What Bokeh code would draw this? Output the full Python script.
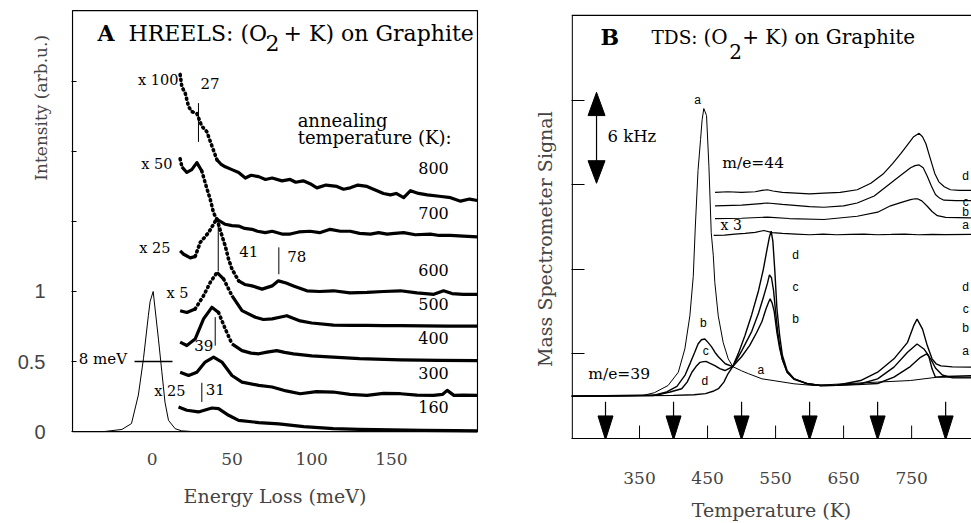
import math
from bokeh.plotting import figure
from bokeh.layouts import row
from bokeh.models import Label, FixedTicker, Span
from bokeh.embed import file_html
from bokeh.resources import INLINE

SERIF = "DejaVu Serif"
SANS = "Liberation Sans"
NB = "\u00a0"

# ---------------- Panel A : HREELS spectra ----------------
E_elastic = [-50, -30, -19, -13, -8.7, -5.5, -2.4, -1.3, 0.6, 1.8, 3.9, 6.0, 8.0, 10.2, 14.4, 18.5, 25]
I_elastic = [0.0, 0.0, 0.015, 0.057, 0.26, 0.52, 0.83, 0.93, 1.0, 0.875, 0.66, 0.43, 0.21, 0.08, 0.02, 0.005, 0.0]

E_800 = [17.5, 18.6, 20.6, 22.8, 24.8, 28.0, 31.1, 34.3, 37.4, 40.6, 43.0, 45.8, 50.0, 54.2, 58.4, 62.0, 66.8, 71.0,
         75.2, 81.4, 86.5, 90.0, 94.7, 99.0, 103.3, 109.0, 115.8, 120.0, 124.2, 129.0, 134.7, 141.0, 145.0, 149.4,
         153.0, 157.7, 162.0, 167.0, 172.5, 180.0, 187.1, 193.4, 199.0, 204.0]
I_800 = [2.55, 2.46, 2.42, 2.32, 2.285, 2.27, 2.18, 2.14, 2.04, 1.94, 1.91, 1.89, 1.87, 1.85, 1.81, 1.83, 1.82, 1.80,
         1.81, 1.79, 1.80, 1.78, 1.79, 1.77, 1.74, 1.76, 1.75, 1.73, 1.74, 1.76, 1.75, 1.72, 1.70, 1.69,
         1.70, 1.67, 1.72, 1.70, 1.69, 1.68, 1.67, 1.645, 1.66, 1.65]

E_700 = [17.5, 18.6, 21.7, 24.8, 28.0, 31.1, 33.2, 36.4, 38.5, 40.6, 45.8, 50.0, 54.2, 58.0, 62.6, 66.0, 70.9, 75.2,
         81.4, 86.5, 92.0, 99.0, 105.0, 111.6, 118.0, 124.2, 130.0, 136.8, 142.0, 147.3, 152.0, 157.7, 165.0, 174.5,
         180.0, 187.1, 195.0, 204.0]
I_700 = [1.947, 1.89, 1.85, 1.87, 1.92, 1.86, 1.776, 1.657, 1.56, 1.515, 1.48, 1.47, 1.467, 1.45, 1.444, 1.43, 1.42,
         1.43, 1.41, 1.41, 1.425, 1.43, 1.42, 1.444, 1.43, 1.43, 1.415, 1.41, 1.42, 1.41, 1.415, 1.42, 1.405, 1.41,
         1.40, 1.40, 1.395, 1.39]

E_600 = [17.5, 19.7, 23.9, 26.9, 30.1, 35.3, 40.5, 42.6, 44.8, 45.8, 47.9, 50.0, 54.2, 58.0, 62.6, 68.9, 75.2, 79.1,
         84.0, 88.6, 97.0, 105.0, 113.7, 124.0, 134.7, 145.0, 155.7, 166.0, 176.6, 182.7, 188.0, 195.0, 204.0]
I_600 = [1.29, 1.266, 1.24, 1.25, 1.35, 1.42, 1.52, 1.44, 1.36, 1.325, 1.23, 1.16, 1.076, 1.05, 1.04, 1.017, 1.04,
         1.076, 1.06, 1.04, 1.005, 1.0, 1.005, 0.99, 0.993, 1.0, 1.005, 0.99, 0.98, 1.005, 0.985, 0.98, 0.98]

E_500 = [17.5, 21.7, 26.9, 32.2, 36.4, 40.6, 44.8, 50.0, 56.3, 64.7, 69.7, 75.2, 80.0, 84.4, 88.0, 92.8, 100.0,
         113.7, 125.0, 134.7, 145.0, 155.7, 170.0, 185.0, 204.0]
I_500 = [0.863, 0.85, 0.875, 0.97, 1.065, 1.136, 1.088, 0.97, 0.863, 0.816, 0.80, 0.804, 0.816, 0.827, 0.81, 0.79,
         0.775, 0.76, 0.758, 0.758, 0.756, 0.756, 0.754, 0.753, 0.752]

E_400 = [17.5, 21.7, 26.9, 32.2, 37.4, 41.6, 45.8, 50.0, 56.3, 62.0, 66.8, 72.0, 78.1, 83.0, 88.6, 100.0, 113.5,
         130.0, 155.7, 180.0, 204.0]
I_400 = [0.638, 0.614, 0.66, 0.804, 0.887, 0.85, 0.733, 0.626, 0.578, 0.56, 0.555, 0.567, 0.578, 0.565, 0.555, 0.54,
         0.531, 0.52, 0.512, 0.508, 0.507]

E_300 = [17.5, 22.8, 28.0, 33.2, 38.5, 43.7, 50.0, 56.3, 66.8, 75.2, 84.0, 92.8, 103.0, 113.5, 124.0, 134.7, 145.0,
         155.7, 166.0, 176.4, 182.0, 185.0, 189.2, 195.0, 204.0]
I_300 = [0.424, 0.40, 0.424, 0.496, 0.531, 0.496, 0.40, 0.353, 0.33, 0.318, 0.29, 0.27, 0.285, 0.282, 0.265, 0.258,
         0.272, 0.27, 0.26, 0.258, 0.265, 0.294, 0.258, 0.26, 0.258]

E_160 = [16.5, 21.7, 29.0, 37.4, 41.6, 47.9, 54.2, 66.8, 79.4, 95.0, 113.5, 130.0, 150.0, 170.0, 190.0, 204.0]
I_160 = [0.175, 0.152, 0.14, 0.168, 0.163, 0.116, 0.08, 0.064, 0.055, 0.035, 0.021, 0.015, 0.012, 0.008, 0.006, 0.005]

anneal_T = ["800", "700", "600", "500", "400", "300", "160"]
anneal_label_I = [1.857, 1.537, 1.135, 0.886, 0.649, 0.40, 0.151]
scale_text = ["x 100", "x 50", "x 25", "x 5", "x 25"]
scale_E = [16.5, 12.7, 11.5, 22.8, 20.9]
scale_I = [2.488, 1.886, 1.289, 0.969, 0.27]

mark_text = ["27", "41", "78", "39", "31"]
mark_E = [29.0, 41.4, 79.4, 39.5, 31.1]
mark_lo = [2.068, 1.146, 1.123, 0.613, 0.211]
mark_hi = [2.345, 1.502, 1.315, 0.817, 0.348]
mark_text_E = [30.3, 54.6, 84.7, 26.3, 33.6]
mark_text_I = [2.466, 1.265, 1.23, 0.59, 0.282]
fwhm_E = [-11.1, 12.7]
fwhm_I = [0.5, 0.5]

# frame box of panel A (energy and intensity limits)
boxA_E = [-50, 204]
boxA_I = [0, 3.006]

# ---------------- Panel B : TDS ----------------
T_a39 = [250, 355, 372, 392, 407, 416.6, 424, 429, 432, 436, 439.7, 442, 444.5, 448.5, 452, 455.4, 458.4, 460.7,
         465.7, 473, 480.4, 487, 500, 510, 530, 548, 577, 606, 650, 700, 748, 788, 838]
S_a39 = [3.0, 3.05, 3.25, 3.76, 4.7, 6.35, 8.7, 11.5, 15.0, 19.0, 21.2, 22.6, 23.4, 22.9, 19.3, 14.6, 13.0, 11.06,
         8.7, 6.8, 5.65, 5.1, 4.8, 4.6, 4.23, 4.1, 3.88, 3.76, 3.88, 4.0, 4.11, 4.35, 4.35]

T_b39 = [250, 370, 390, 405, 417, 425, 431, 436, 441, 446, 451, 456, 461, 466, 471, 476, 487, 500, 512, 522, 530,
         536, 540, 542, 545, 548, 552, 556, 560, 567, 577, 597, 616, 640, 670, 700, 724, 748, 763, 772, 778, 785,
         795, 810, 838]
S_b39 = [3.0, 3.05, 3.3, 3.7, 4.5, 5.4, 6.1, 6.7, 7.0, 7.06, 6.8, 6.5, 6.1, 5.8, 5.55, 5.3, 5.1, 5.8, 6.6, 7.5, 8.3,
         9.2, 9.7, 9.9, 9.6, 9.0, 7.5, 6.4, 5.6, 4.7, 4.2, 3.88, 3.76, 3.78, 3.82, 3.9, 4.35, 5.1, 5.76, 6.0, 5.65,
         5.0, 4.5, 4.3, 4.3]

T_c39 = [250, 375, 395, 412, 420, 427, 433, 439, 444, 448.5, 453, 460.7, 468, 475.5, 487, 500, 515, 525, 532, 538,
         541, 544, 547, 550, 553, 556, 560, 567, 577, 597, 616, 640, 675, 700, 724, 744, 758, 768, 775, 780, 785, 800,
         838]
S_c39 = [3.0, 3.08, 3.3, 3.53, 4.0, 4.7, 5.1, 5.4, 5.45, 5.46, 5.35, 5.17, 4.95, 4.82, 5.1, 6.2, 7.6, 8.9, 10.0,
         11.0, 11.6, 11.4, 10.5, 9.0, 7.6, 6.6, 5.6, 4.7, 4.23, 3.88, 3.76, 3.78, 3.88, 4.23, 5.06, 6.12, 6.7, 6.35,
         5.88, 4.94, 4.35, 4.4, 4.45]

T_d39 = [250, 400, 430, 447, 458, 466, 474, 480, 487, 495, 505, 515, 525, 532, 537, 541, 543.5, 546, 549, 552, 556,
         560, 567, 577, 597, 616, 640, 675, 700, 724, 744, 753, 758, 766, 773, 780, 786, 793, 810, 838]
S_d39 = [3.0, 3.06, 3.1, 3.18, 3.35, 3.53, 4.0, 4.59, 5.1, 6.0, 7.3, 8.8, 10.5, 12.0, 13.3, 14.3, 14.7, 14.0, 11.8,
         9.2, 7.3, 5.9, 4.8, 4.25, 3.88, 3.76, 3.78, 4.11, 4.7, 5.65, 6.82, 8.0, 8.47, 7.76, 6.59, 5.65, 5.3, 5.15,
         5.08, 5.06]

T_d44 = [461, 480, 500, 520, 530, 538, 546, 560, 580, 600, 621, 645, 670, 690, 709, 722, 734, 745, 753, 761, 766,
         771, 778, 784, 790, 798, 807, 820, 838]
S_d44 = [17.46, 17.5, 17.45, 17.5, 17.6, 17.64, 17.55, 17.45, 17.4, 17.35, 17.4, 17.45, 17.64, 18.1, 18.8, 19.5,
         20.2, 20.9, 21.4, 21.64, 21.4, 20.9, 19.76, 18.8, 18.2, 17.85, 17.64, 17.6, 17.6]
T_c44 = [461, 500, 538, 560, 600, 621, 650, 670, 695, 719, 735, 748.5, 755, 761, 767, 773, 779, 785, 791, 797.5,
         815, 838]
S_c44 = [16.5, 16.55, 16.7, 16.6, 16.45, 16.4, 16.5, 16.7, 17.2, 18.1, 18.7, 19.2, 19.35, 19.4, 19.2, 18.6, 17.9,
         17.3, 17.05, 16.9, 16.87, 16.87]
T_b44 = [461, 500, 538, 570, 621, 670, 700, 719, 735, 748.5, 755, 758.4, 765, 773, 780, 787.8, 800, 838]
S_b44 = [15.6, 15.62, 15.7, 15.6, 15.53, 15.76, 16.05, 16.5, 16.75, 16.94, 17.0, 17.0, 16.85, 16.47, 16.1, 15.8,
         15.68, 15.65]
T_a44 = [459, 475, 490, 505, 520, 532.8, 545, 560, 580, 600, 620, 640, 660, 680, 700, 720, 740, 760, 780, 800, 838]
S_a44 = [14.4, 14.42, 14.5, 14.55, 14.62, 14.75, 14.6, 14.55, 14.5, 14.45, 14.5, 14.45, 14.48, 14.5, 14.45, 14.47,
         14.5, 14.45, 14.47, 14.46, 14.47]

anneal_arrow_T = [300, 400, 500, 600, 700, 800]
temp_ticks = [350, 450, 550, 650, 750]
signal_ticks = [6, 12, 18, 24]
signal_top = 30

curve_tags = ["a", "b", "c", "d", "a", "d", "c", "b", "d", "c", "b", "a", "d", "c", "b", "a"]
tag_T = [435.3, 443.7, 447.5, 446.0, 528.4, 579.4, 579.4, 579.4, 829.4, 829.4, 829.4, 829.4, 829.4, 829.4, 829.4, 829.4]
tag_S = [23.94, 8.12, 6.12, 4.0, 4.82, 12.94, 10.64, 8.42, 10.64, 9.13, 7.76, 6.12, 18.58, 16.7, 16.0, 15.05]


def add_text(p, x, y, s, size, align="left", font=SERIF, style="normal", dy=3):
    p.add_layout(Label(x=x, y=y, y_offset=dy, text=s, text_font=font, text_font_size=f"{size}px",
                       text_align=align, text_baseline="middle", text_font_style=style, text_color="black"))


def draw_spectrum(p, E, I, dotted=(), width=3.2):
    groups = []
    for k in range(len(E) - 1):
        mid = 0.5 * (E[k] + E[k + 1])
        is_dot = any(lo <= mid <= hi for lo, hi in dotted)
        if groups and groups[-1][0] == is_dot:
            groups[-1][1].append(E[k + 1]); groups[-1][2].append(I[k + 1])
        else:
            groups.append([is_dot, [E[k], E[k + 1]], [I[k], I[k + 1]]])
    for is_dot, xs, ys in groups:
        if is_dot:
            p.line(xs, ys, line_color="black", line_width=width + 0.4, line_dash="1 4", line_cap="round")
        else:
            p.line(xs, ys, line_color="black", line_width=width, line_join="round")


# Both figures share the same top/bottom borders (a row aligns the plot frames).
TOP, BOTTOM = 9, 83
HEIGHT = 523
frame_h = HEIGHT - TOP - BOTTOM          # 431 px

# ================= Figure A =================
pxA = 1.5945                              # px per meV
pyA = 140.7                               # px per intensity unit
a_x0 = boxA_E[0] - 1 / pxA
a_y0 = -7 / pyA                           # frame bottom lies 7 px below the zero line
pA = figure(width=490, height=HEIGHT, x_range=(a_x0, a_x0 + 407 / pxA), y_range=(a_y0, a_y0 + frame_h / pyA),
            output_backend="svg", toolbar_location=None, tools="", min_border_left=71, min_border_right=12,
            min_border_top=TOP, min_border_bottom=BOTTOM)
pA.grid.visible = False
pA.outline_line_color = None
pA.background_fill_color = "white"
pA.border_fill_color = "white"

xa = pA.xaxis[0]
xa.ticker = FixedTicker(ticks=[0, 50, 100, 150])
xa.major_tick_in = 0
xa.major_tick_out = 0
xa.minor_tick_line_color = None
xa.axis_line_color = None
xa.major_label_text_font = SERIF
xa.major_label_text_font_size = "17px"
xa.major_label_standoff = 14
xa.axis_label = "Energy Loss (meV)"
xa.axis_label_text_font = SERIF
xa.axis_label_text_font_size = "19px"
xa.axis_label_text_font_style = "normal"
xa.axis_label_standoff = 17

ya = pA.yaxis[0]
ya.ticker = FixedTicker(ticks=[0, 0.5, 1, 1.5, 2, 2.5])
ya.major_label_overrides = {0: "0", 0.5: "0.5", 1: "1", 1.5: "", 2: "", 2.5: ""}
ya.major_tick_in = 5
ya.major_tick_out = 0
ya.minor_tick_line_color = None
ya.axis_line_color = None
ya.major_label_text_font = SANS
ya.major_label_text_font_size = "20px"
ya.major_label_standoff = 26
# leading no-break spaces move the centred label up toward the top of the axis
ya.axis_label = NB * 43 + "Intensity (arb.u.)"
ya.axis_label_text_font = SERIF
ya.axis_label_text_font_size = "17px"
ya.axis_label_text_font_style = "normal"
ya.axis_label_standoff = -36

# box around panel A
pA.line([boxA_E[0], boxA_E[1], boxA_E[1], boxA_E[0], boxA_E[0]],
        [boxA_I[0], boxA_I[0], boxA_I[1], boxA_I[1], boxA_I[0]], line_color="black", line_width=1.2)

pA.line(E_elastic, I_elastic, line_color="black", line_width=1)
draw_spectrum(pA, E_160, I_160)
draw_spectrum(pA, E_300, I_300)
draw_spectrum(pA, E_400, I_400, dotted=[(42, 52)])
draw_spectrum(pA, E_500, I_500, dotted=[(28, 39), (43, 52)])
draw_spectrum(pA, E_600, I_600, dotted=[(28, 39.5), (41, 55)])
draw_spectrum(pA, E_700, I_700, dotted=[(17, 19), (31, 42)])
draw_spectrum(pA, E_800, I_800, dotted=[(17, 41)])

pA.segment(x0=mark_E, y0=mark_lo, x1=mark_E, y1=mark_hi, line_color="black", line_width=1)
pA.line(fwhm_E, fwhm_I, line_color="black", line_width=1.5)

for s, e, i in zip(mark_text, mark_text_E, mark_text_I):
    add_text(pA, e, i, s, 15)
add_text(pA, -15.8, 0.5, "8 meV", 15, align="right")

for s, e, i in zip(scale_text, scale_E, scale_I):
    add_text(pA, e, i, s, 14.5, align="right")
for s, i in zip(anneal_T, anneal_label_I):
    add_text(pA, 186.0, i, s, 16, align="right")

add_text(pA, 91.2, 2.196, "annealing", 18)
add_text(pA, 91.2, 2.075, "temperature (K):", 18)

add_text(pA, -34.3, 2.822, "A", 22, style="bold")
add_text(pA, -14.9, 2.822, "HREELS: (O", 22)
add_text(pA, 75.5, 2.75, "2", 22, align="center")
add_text(pA, 82.4, 2.822, "+ K) on Graphite", 22)

# ================= Figure B =================
pyB = 425 / 30.0                           # px per signal unit
pB = figure(width=481, height=HEIGHT, x_range=(250, 838), y_range=(0, frame_h / pyB), output_backend="svg",
            toolbar_location=None, tools="", min_border_left=81, min_border_right=0, min_border_top=TOP,
            min_border_bottom=BOTTOM)
pB.grid.visible = False
pB.outline_line_color = None
pB.background_fill_color = "white"
pB.border_fill_color = "white"
pB.add_layout(Span(location=signal_top, dimension="width", line_color="black", line_width=1.2))

xb = pB.xaxis[0]
xb.ticker = FixedTicker(ticks=temp_ticks)
xb.major_tick_in = 0
xb.major_tick_out = 0
xb.minor_tick_line_color = None
xb.major_label_text_font = SERIF
xb.major_label_text_font_size = "17px"
xb.major_label_standoff = 33
xb.axis_line_width = 1.2
xb.axis_label = "Temperature (K)"
xb.axis_label_text_font = SERIF
xb.axis_label_text_font_size = "19px"
xb.axis_label_text_font_style = "normal"
xb.axis_label_standoff = 12

# inward ticks on the temperature axis, drawn at the ticker's values (13 px long)
tick_len = 13 / pyB
pB.segment(x0=temp_ticks, y0=[0] * len(temp_ticks), x1=temp_ticks, y1=[tick_len] * len(temp_ticks),
           line_color="black", line_width=1)

yb = pB.yaxis[0]
yb.ticker = FixedTicker(ticks=signal_ticks)
yb.major_label_overrides = {t: "" for t in signal_ticks}
yb.major_label_standoff = 0
yb.major_tick_in = 13
yb.major_tick_out = 0
yb.minor_tick_line_color = None
yb.axis_line_color = None
# trailing no-break spaces move the centred label slightly down
yb.axis_label = "Mass Spectrometer Signal" + NB * 5
yb.axis_label_text_font = SERIF
yb.axis_label_text_font_size = "19px"
yb.axis_label_text_font_style = "normal"
yb.axis_label_standoff = 16
# left frame line from the temperature axis up to the top line
pB.line([250 + 0.75 / 0.68, 250 + 0.75 / 0.68], [0, signal_top], line_color="black", line_width=1.2)

for T, S in [(T_d44, S_d44), (T_c44, S_c44), (T_b44, S_b44), (T_a44, S_a44)]:
    pB.line(T, S, line_color="black", line_width=1.2)
pB.line(T_a39, S_a39, line_color="black", line_width=1.0)
for T, S in [(T_b39, S_b39), (T_c39, S_c39), (T_d39, S_d39)]:
    pB.line(T, S, line_color="black", line_width=1.4)

# annealing-temperature arrows (head sizes given in px, converted to data units)
kx = 588 / 400.0
head_half = 7.5 * kx
for t in anneal_arrow_T:
    pB.segment(x0=[t], y0=[2.6], x1=[t], y1=[1.5], line_color="black", line_width=1.2)
pB.patches(xs=[[t - head_half, t + head_half, t] for t in anneal_arrow_T],
           ys=[[1.6, 1.6, -0.1] for t in anneal_arrow_T], fill_color="black", line_color="black")

# 6 kHz scale arrow
ax_T = 286.8
pB.segment(x0=[ax_T], y0=[19.5], x1=[ax_T], y1=[23.0], line_color="black", line_width=1.2)
pB.patches(xs=[[ax_T - 8.5 * kx, ax_T + 8.5 * kx, ax_T], [ax_T - 8.5 * kx, ax_T + 8.5 * kx, ax_T]],
           ys=[[22.9, 22.9, 24.55], [19.7, 19.7, 18.1]], fill_color="black", line_color="black")
add_text(pB, 302.9, 21.17, "6 kHz", 16.5)

add_text(pB, 292.6, 28.23, "B", 22, style="bold")
add_text(pB, 367.6, 28.23, "TDS:", 18.5)
add_text(pB, 444.1, 28.23, "(O", 20)
add_text(pB, 491.2, 27.24, "2", 20, align="center")
add_text(pB, 501.0, 28.23, "+ K) on Graphite", 20)

add_text(pB, 471.6, 19.29, "m/e=44", 15.5)
add_text(pB, 469.1, 14.96, "x 3", 14)
add_text(pB, 274.6, 4.35, "m/e=39", 15.5)

for s, t, v in zip(curve_tags, tag_T, tag_S):
    add_text(pB, t, v, s, 12, align="center", font=SANS, dy=1)

layout = row(pA, pB)
open("out.html", "w").write(file_html(layout, INLINE))
